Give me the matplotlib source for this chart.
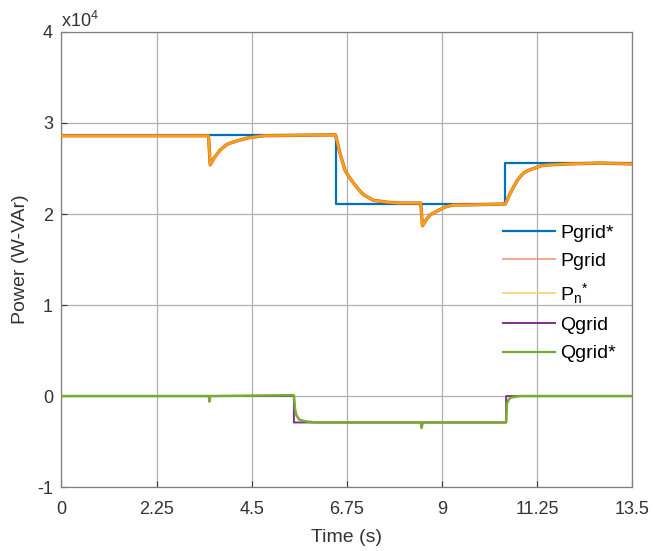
import matplotlib
matplotlib.use('Agg')
import matplotlib.pyplot as plt
from matplotlib.lines import Line2D

plt.rcParams['font.family'] = ['Liberation Sans', 'DejaVu Sans']
plt.rcParams['mathtext.fontset'] = 'custom'
plt.rcParams['mathtext.rm'] = 'Liberation Sans'
plt.rcParams['mathtext.it'] = 'Liberation Sans'
plt.rcParams['axes.unicode_minus'] = False

# values in units of 1e4 W / VAr
t_pref = [0, 6.5, 6.5, 10.5, 10.5, 13.5]
pgrid_ref = [2.865, 2.865, 2.11, 2.11, 2.56, 2.56]

t_p = [0, 3.48, 3.52, 3.62, 3.75, 3.9, 4.0, 4.2, 4.46, 4.8, 6.48,
       6.52, 6.6, 6.71, 6.8, 6.91, 7.03, 7.15, 7.27, 7.38, 7.55, 7.7, 8.0, 8.5,
       8.54, 8.62, 8.72, 8.84, 8.96, 9.1, 9.27, 9.6, 10.5,
       10.55, 10.62, 10.7, 10.8, 10.93, 11.05, 11.17, 11.35, 11.56, 12.0, 12.75, 13.5]
pgrid = [2.86, 2.86, 2.54, 2.62, 2.70, 2.76, 2.78, 2.81, 2.84, 2.86, 2.87,
         2.80, 2.65, 2.48, 2.41, 2.34, 2.27, 2.21, 2.18, 2.15, 2.14, 2.13, 2.12, 2.12,
         1.87, 1.93, 1.99, 2.02, 2.05, 2.08, 2.10, 2.10, 2.11,
         2.16, 2.23, 2.30, 2.38, 2.45, 2.48, 2.50, 2.53, 2.54, 2.55, 2.56, 2.55]
pn_star = pgrid

t_q = [0, 3.49, 3.5, 3.52, 5.5, 5.5, 10.52, 10.52, 13.5]
qgrid = [0.0, 0.0, -0.06, 0.0, 0.0, -0.29, -0.29, 0.0, 0.0]

t_qs = [0, 3.49, 3.5, 3.52, 5.5, 5.53, 5.56, 5.62, 5.7, 5.81, 6.0, 8.5, 8.52, 8.55,
        10.52, 10.54, 10.58, 10.62, 10.7, 10.85, 13.5]
qgrid_ref = [0.0, 0.0, -0.06, 0.0, 0.01, -0.15, -0.21, -0.256, -0.27, -0.28, -0.29, -0.29, -0.35, -0.29,
             -0.29, -0.08, -0.04, -0.02, -0.01, 0.0, 0.0]

xticks = [0, 2.25, 4.5, 6.75, 9, 11.25, 13.5]
xticklabels = ['0', '2.25', '4.5', '6.75', '9', '11.25', '13.5']
yticks = [-1, 0, 1, 2, 3, 4]

blue = '#0072BD'
red = '#D95319'
yellow = '#EDB120'
purple = '#7E2F8E'
green = '#77AC30'
txt = '#333333'

fig = plt.figure(figsize=(6.53, 5.51), dpi=100)
ax = fig.add_axes([0.094, 0.116, 0.874, 0.826])

ax.plot(t_pref, pgrid_ref, color=blue, lw=1.6, zorder=3)
ax.plot(t_p, pgrid, color=red, lw=2.4, zorder=4)
ax.plot(t_p, pn_star, color='#F4A318', lw=1.8, zorder=5)
ax.plot(t_q, qgrid, color=purple, lw=1.4, zorder=3)
ax.plot(t_qs, qgrid_ref, color=green, lw=1.8, zorder=4)

ax.set_xlim(0, 13.5)
ax.set_ylim(-1, 4)
ax.set_xticks(xticks)
ax.set_xticklabels(xticklabels)
ax.set_yticks(yticks)
ax.grid(True, color='#b0b0b0', lw=0.9)
ax.set_axisbelow(True)
for s in ax.spines.values():
    s.set_color('#808080')
    s.set_linewidth(0.9)
ax.tick_params(direction='in', length=4, colors=txt, labelsize=13, pad=6)
ax.tick_params(axis='x', pad=10)

ax.set_xlabel('Time (s)', fontsize=14, color=txt, labelpad=8)
ax.set_ylabel('Power (W-VAr)', fontsize=14, color=txt, labelpad=6)
ax.text(0.0, 1.003, r'x10$^4$', transform=ax.transAxes, fontsize=13, color=txt,
        ha='left', va='bottom')

handles = [Line2D([], [], color=blue, lw=1.6),
           Line2D([], [], color='#EC9A7A', lw=1.2),
           Line2D([], [], color='#F8D070', lw=1.2),
           Line2D([], [], color=purple, lw=1.4),
           Line2D([], [], color=green, lw=1.6)]
labels = ['Pgrid*', 'Pgrid', r'P$_{\mathrm{n}}$$^{*}$', 'Qgrid', 'Qgrid*']
leg = ax.legend(handles, labels, loc='upper left', bbox_to_anchor=(0.743, 0.616),
                frameon=False, fontsize=14, handlelength=2.7, handletextpad=0.26,
                labelspacing=0.55, labelcolor='black')

fig.savefig('out.png', dpi=100)
